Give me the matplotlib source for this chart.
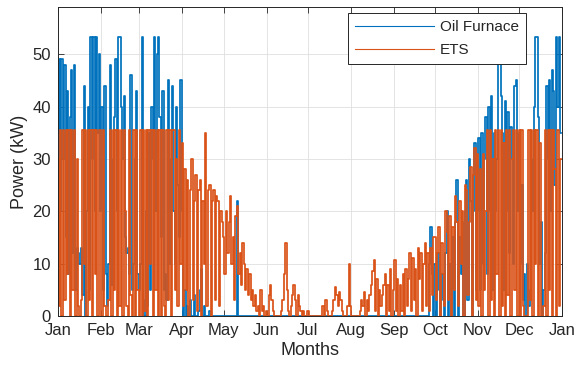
import numpy as np
import matplotlib
matplotlib.use("Agg")
import matplotlib.pyplot as plt

plt.rcParams["font.family"] = ["Liberation Sans", "DejaVu Sans"]

# Month axis
month_labels = ["Jan", "Feb", "Mar", "Apr", "May", "Jun", "Jul",
                "Aug", "Sep", "Oct", "Nov", "Dec", "Jan"]
days_in_month = [31, 28, 31, 30, 31, 30, 31, 31, 30, 31, 30, 31]

# Daily heating power of the oil furnace (kW)
oil_furnace = [
    # Jan
    35, 49, 20, 49, 30, 48, 15, 43, 8, 38, 47, 12, 48, 5, 13, 12, 10, 13, 4, 44,
    0, 20, 40, 5, 53.3, 30, 53.3, 20, 53.3, 35, 50,
    # Feb
    20, 40, 5, 44, 8, 2, 10, 48, 6, 30, 38, 49, 20, 53.3, 53.3, 40, 30, 42, 15, 12,
    13, 8, 46, 5, 10, 30, 43, 8,
    # Mar
    5, 10, 53.3, 3, 0, 20, 2, 35, 5, 40, 30, 53.3, 20, 50, 53.3, 38, 15, 43, 5, 8,
    3, 45, 10, 30, 44, 20, 10, 40, 25, 15, 45,
    # Apr
    20, 0, 5, 0, 2, 0, 3, 0, 0, 4, 0, 0, 1, 5, 9, 0, 2, 0, 0, 0,
    1, 0, 0, 0, 0, 0, 0, 0, 0, 0,
    # May
    0, 0, 0, 0, 0, 0, 0, 0, 0, 0, 22, 0, 0, 0, 0, 0, 0, 0, 0, 0,
    0, 0, 0, 0, 0, 0, 0, 0, 0, 0, 0,
    # Jun
    0, 0, 0, 0, 0, 0, 0, 0, 0, 0, 0, 0, 0, 0, 0, 0, 0, 0, 0, 0,
    0, 0, 0, 0, 0, 0, 0, 0, 0, 0,
    # Jul
    0, 0, 0, 0, 0, 0, 0, 0, 0, 0, 0, 0, 0, 0, 0, 0, 0, 0, 0, 0,
    0, 0, 0, 0, 0, 0, 0, 0, 0, 0, 0,
    # Aug
    0, 0, 0, 0, 0, 0, 0, 0, 0, 0, 0, 0, 0, 0, 0, 0, 0, 0, 0, 0,
    0, 0, 0, 0, 0, 0, 0, 0, 0, 0, 0,
    # Sep
    0, 0, 0, 0, 0, 0, 0, 0, 0, 0, 0, 0, 0, 0, 0, 0, 0, 0, 0, 0,
    0, 0, 0, 0, 0, 0, 10, 17, 8, 0,
    # Oct
    10, 0, 5, 12, 0, 8, 3, 0, 12, 20, 0, 10, 0, 15, 0, 18, 26, 0, 15, 8,
    18, 0, 20, 26, 3, 30, 22, 0, 20, 33, 5,
    # Nov
    20, 34, 5, 35, 10, 30, 38, 8, 40, 20, 42, 5, 35, 20, 30, 53.3, 53.3, 42, 35, 5,
    41, 20, 39, 12, 36, 30, 10, 44, 45, 20,
    # Dec
    35, 10, 25, 3, 8, 0, 10, 2, 5, 30, 20, 40, 53.3, 53.3, 38, 10, 18, 0, 5, 12,
    44, 30, 45, 20, 47, 43, 25, 53.3, 40, 53.3, 35,
]

# Daily heating power of the electric thermal storage (kW)
ets = [
    # Jan
    30, 2, 35.5, 0, 35.5, 3, 35.5, 8, 35.5, 0, 35.5, 5, 35.5, 0, 30, 2, 0, 3, 35.5, 10,
    35.5, 0, 35.5, 3, 35.5, 0, 35.5, 8, 35.5, 0, 35.5,
    # Feb
    35.5, 0, 35.5, 2, 0, 0, 3, 35.5, 0, 35.5, 5, 35.5, 0, 35.5, 2, 35.5, 0, 35.5, 20, 2,
    0, 35.5, 4, 0, 35.5, 0, 35.5, 5,
    # Mar
    0, 35.5, 0, 35.5, 1, 35.5, 0, 35.5, 10, 35.5, 0, 35.5, 5, 35.5, 0, 35.5, 0, 35.5, 2, 0,
    35.5, 3, 35.5, 0, 35.5, 35.5, 5, 30, 2, 35.5, 10,
    # Apr
    33, 2, 28, 5, 26, 0, 24, 30, 3, 22, 27, 1, 24, 26, 0, 22, 10, 35, 2, 24,
    25, 0, 22, 24, 3, 23, 22, 2, 20, 18,
    # May
    15, 8, 20, 12, 18, 23, 10, 15, 3, 19, 21, 8, 12, 6, 14, 10, 5, 9, 4, 8,
    3, 5, 2, 4, 1, 2, 0, 5, 1, 2, 0,
    # Jun
    1, 0, 4, 6, 3, 1, 0, 0, 0, 0, 0, 1, 3, 8, 14, 5, 1, 0, 2, 4,
    6, 3, 0, 4, 2, 1, 0, 1, 0, 0,
    # Jul
    1, 0, 0, 0, 0, 0, 0, 0, 0, 0, 0, 2, 0, 3, 1, 0, 0, 0, 1, 3,
    5.6, 4, 2, 4.5, 3, 1, 0, 0, 0, 2, 10,
    # Aug
    2, 0, 0, 0, 0, 0, 0, 1, 3, 2, 4.5, 0, 3, 1, 4, 6, 8.6, 10.7, 1, 7,
    0, 5, 2, 4, 6, 8, 0, 6, 1, 9, 0,
    # Sep
    5, 10.7, 1, 7, 0, 6, 1, 8, 0, 9, 2, 7, 12, 1, 11, 3, 9, 0, 13, 7,
    12, 1, 10, 14, 2, 12, 1, 13, 4, 15,
    # Oct
    15, 3, 12, 17, 0, 14, 8, 2, 20, 16, 3, 19, 0, 17, 5, 23, 18, 2, 22, 10,
    20, 0, 25, 24, 4, 18, 28.5, 0, 27, 32, 3,
    # Nov
    31, 2, 28, 0, 31, 5, 20, 35.5, 0, 35.5, 3, 30, 0, 35.5, 8, 35.5, 0, 35.5, 2, 33,
    0, 35.5, 4, 35.5, 0, 30, 35.5, 5, 35.5, 0,
    # Dec
    35.5, 0, 35.5, 2, 0, 0, 0, 35.5, 3, 35.5, 0, 35.5, 10, 35.5, 0, 33, 0, 0, 2, 35.5,
    0, 35.5, 5, 35.5, 0, 35.5, 28, 0, 35.5, 2, 30,
]

series_names = ["Oil Furnace", "ETS"]
series_colors = ["#0072BD", "#D95319"]

days = np.arange(len(oil_furnace))
month_starts = np.concatenate([[0], np.cumsum(days_in_month)])

fig = plt.figure(figsize=(5.77, 3.71), dpi=100)
ax = fig.add_axes([58 / 577, 55 / 371, 504 / 577, 309 / 371])

for values, name, color in zip([oil_furnace, ets], series_names, series_colors):
    ax.plot(days, values, color=color, linewidth=1.25, label=name,
            drawstyle="steps-mid")

ax.set_xlim(0, 365)
ax.set_ylim(0, 59)
ax.set_xticks(month_starts)
ax.set_xticklabels(month_labels)
ax.set_yticks([0, 10, 20, 30, 40, 50])

axis_color = "#262626"
ax.grid(True, color="#dfdfdf", linewidth=0.6)
ax.set_axisbelow(True)
ax.tick_params(direction="in", length=4, width=0.6, top=True, right=True,
               colors=axis_color, labelsize=12)
ax.tick_params(axis="x", pad=5)
ax.tick_params(axis="y", pad=5)
for spine in ax.spines.values():
    spine.set_color(axis_color)
    spine.set_linewidth(0.7)

ax.set_xlabel("Months", fontsize=13, color=axis_color, labelpad=3)
ax.set_ylabel("Power (kW)", fontsize=13, color=axis_color, labelpad=3)

leg = ax.legend(loc="upper right", bbox_to_anchor=(468 / 504, 303 / 309),
                borderaxespad=0, fontsize=11, handlelength=5.2,
                handletextpad=0.4, borderpad=0.45, labelspacing=0.6,
                fancybox=False, framealpha=1, edgecolor="#262626")
leg.get_frame().set_linewidth(0.7)
for line in leg.get_lines():
    line.set_linewidth(0.8)
for txt in leg.get_texts():
    txt.set_color(axis_color)

fig.savefig("out.png", dpi=100)
